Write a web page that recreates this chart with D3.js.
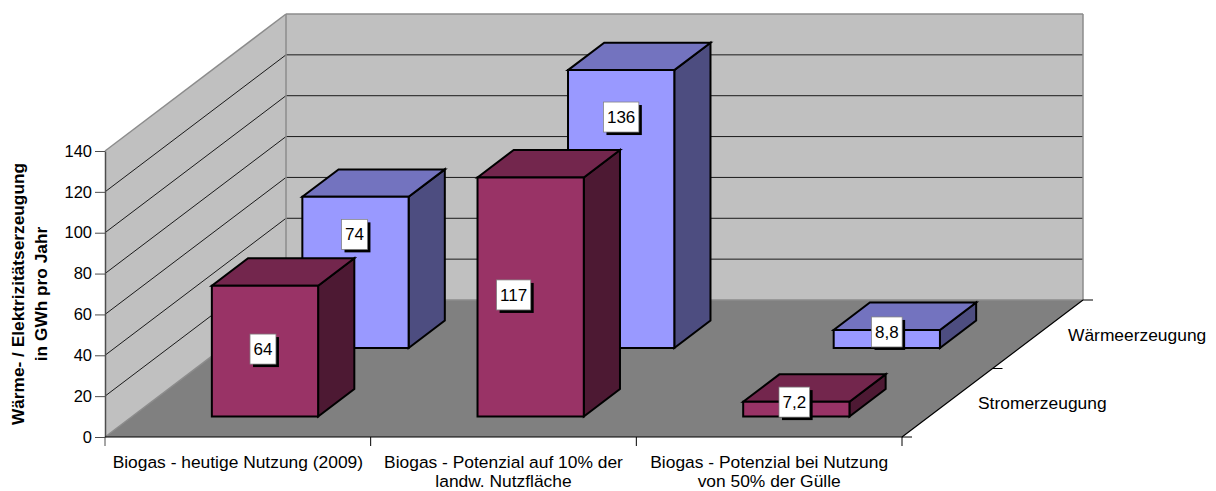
<!DOCTYPE html>
<html>
<head>
<meta charset="utf-8">
<script src="https://cdn.jsdelivr.net/npm/d3@7"></script>
<style>
  html, body { margin: 0; padding: 0; background: #fff; }
  svg { display: block; }
  text { font-family: "Liberation Sans", Arial, sans-serif; fill: #000; }
</style>
</head>
<body>
<div id="chart"></div>
<script>
var categories = [
  ["Biogas - heutige Nutzung (2009)"],
  ["Biogas - Potenzial auf 10% der", "landw. Nutzfläche"],
  ["Biogas - Potenzial bei Nutzung", "von 50% der Gülle"]
];
var seriesNames = ["Stromerzeugung", "Wärmeerzeugung"];
var strom = [64, 117, 7.2];
var waerme = [74, 136, 8.8];
var yTicks = [0, 20, 40, 60, 80, 100, 120, 140];

var width = 1216,
    height = 491;

// front edge of the floor and how far the box runs back
var left = 105, right = 902, bottom = 437, top_ = 151;
var depthX = 181, depthY = 137;

var x = d3.scaleBand().domain(d3.range(categories.length)).range([left, right]).paddingInner(0.6).paddingOuter(0.3);
var xOuter = d3.scaleBand().domain(d3.range(categories.length)).range([left, right]);
var y = d3.scaleLinear().domain([0, 140]).range([bottom, top_]);
var z = d3.scaleBand().domain(seriesNames).range([0, 1]).paddingInner(0.6).paddingOuter(0.3);

function pt(px, v, d) {
  return [px + d * depthX, y(v) - d * depthY];
}
function poly(points) {
  return "M" + points.map(function(p) { return p.join(","); }).join("L") + "Z";
}
function seg(a, b) {
  return "M" + a.join(",") + "L" + b.join(",");
}

var svg = d3.select("#chart").append("svg").attr("width", width).attr("height", height);

// walls and floor
svg.append("path").attr("fill", "#c0c0c0")
  .attr("d", poly([pt(left, 0, 0), pt(left, 140, 0), pt(left, 140, 1), pt(right, 140, 1), pt(right, 0, 1), pt(left, 0, 1)]));
svg.append("path").attr("fill", "#808080")
  .attr("d", poly([pt(left, 0, 0), pt(left, 0, 1), pt(right, 0, 1), pt(right, 0, 0)]));

// gridlines
yTicks.filter(function(t) { return t > 0 && t < 140; }).forEach(function(t) {
  svg.append("path").attr("fill", "none").attr("stroke", "#1a1a1a").attr("stroke-width", 1)
    .attr("d", "M" + [pt(left, t, 0), pt(left, t, 1), pt(right, t, 1)].map(String).join("L"));
});

// wall edges
var edges = [
  [pt(left, 140, 0), pt(left, 140, 1)],
  [pt(left, 140, 1), pt(right, 140, 1)],
  [pt(right, 140, 1), pt(right, 0, 1)],
  [pt(left, 140, 1), pt(left, 0, 1)],
  [pt(left, 0, 1), pt(right, 0, 1)],
  [pt(left, 0, 0), pt(left, 0, 1)]
];
svg.append("g").selectAll("path").data(edges).enter().append("path")
  .attr("fill", "none").attr("stroke", "#8c8c8c").attr("stroke-width", 1.5)
  .attr("d", function(d) { return seg(d[0], d[1]); });

// y axis
var yAxis = svg.append("g").attr("transform", "translate(" + left + ",0)")
  .call(d3.axisLeft(y).tickValues(yTicks).tickSize(10).tickPadding(3).tickSizeOuter(0));
yAxis.select(".domain").attr("stroke", "#4d4d4d").attr("stroke-width", 1.5);
yAxis.selectAll("line").attr("stroke", "#4d4d4d");
yAxis.selectAll("text").style("font-size", "16.5px")
  .style("font-family", "\"Liberation Sans\", Arial, sans-serif");

// bottom axis, ticks and depth axis
svg.append("path").attr("fill", "none").attr("stroke", "#000").attr("stroke-width", 1.2)
  .attr("d", seg(pt(left, 0, 0), pt(right, 0, 0)) + seg(pt(right, 0, 0), pt(right, 0, 1)));
var xTicks = d3.range(categories.length + 1).map(function(i) {
  return i < categories.length ? xOuter(i) : right;
});
svg.append("g").selectAll("line").data(xTicks).enter().append("line")
  .attr("x1", function(d) { return d; }).attr("x2", function(d) { return d; })
  .attr("y1", bottom).attr("y2", bottom + 9)
  .attr("stroke", function(d, i) { return i == 0 ? "#4d4d4d" : "#000"; });
svg.append("g").selectAll("line").data([0, 0.5, 1]).enter().append("line")
  .attr("x1", function(d) { return pt(right, 0, d)[0]; })
  .attr("x2", function(d) { return pt(right, 0, d)[0] + 10; })
  .attr("y1", function(d) { return pt(right, 0, d)[1]; })
  .attr("y2", function(d) { return pt(right, 0, d)[1]; })
  .attr("stroke", "#000");

// category labels
var catText = svg.append("g").selectAll("text").data(categories).enter().append("text")
  .attr("text-anchor", "middle").style("font-size", "17.4px");
catText.selectAll("tspan").data(function(d, i) {
    return d.map(function(s) { return { s: s, i: i }; });
  }).enter().append("tspan")
  .attr("x", function(d) { return xOuter(d.i) + xOuter.bandwidth() / 2; })
  .attr("y", function(d, j) { return bottom + 30.5 + j * 19.5; })
  .text(function(d) { return d.s; });

// series labels on the depth axis
var depthLabelX = [978, 1068], depthLabelY = [409, 341];
svg.append("g").selectAll("text").data(seriesNames).enter().append("text")
  .attr("x", function(d, i) { return depthLabelX[i]; })
  .attr("y", function(d, i) { return depthLabelY[i]; })
  .style("font-size", "17.4px")
  .text(function(d) { return d; });

// y title
var yTitle = svg.append("text").attr("transform", "translate(0,294) rotate(-90)")
  .attr("text-anchor", "middle").style("font-size", "17.3px").style("font-weight", "bold");
yTitle.append("tspan").attr("x", 0).attr("y", 24).text("Wärme- / Elektrizitätserzeugung");
yTitle.append("tspan").attr("x", 0).attr("y", 47).text("in GWh pro Jahr");

// bars, back row first
var rows = [
  { name: seriesNames[1], values: waerme, front: "#9999ff", top: "#7373bf", side: "#4d4d80" },
  { name: seriesNames[0], values: strom, front: "#993366", top: "#73264d", side: "#4d1933" }
];
var barWidth = x.bandwidth(), barDepth = z.bandwidth();

rows.forEach(function(r) {
  var d0 = z(r.name), d1 = d0 + barDepth;
  var g = svg.append("g").selectAll("g").data(r.values).enter().append("g")
    .attr("stroke", "#000").attr("stroke-width", 2).attr("stroke-linejoin", "miter");
  g.append("path").attr("fill", r.side).attr("d", function(v, i) {
    var xr = x(i) + barWidth;
    return poly([pt(xr, 0, d0), pt(xr, v, d0), pt(xr, v, d1), pt(xr, 0, d1)]);
  });
  g.append("path").attr("fill", r.top).attr("d", function(v, i) {
    var xl = x(i), xr = xl + barWidth;
    return poly([pt(xl, v, d0), pt(xr, v, d0), pt(xr, v, d1), pt(xl, v, d1)]);
  });
  g.append("path").attr("fill", r.front).attr("d", function(v, i) {
    var xl = x(i), xr = xl + barWidth;
    return poly([pt(xl, 0, d0), pt(xl, v, d0), pt(xr, v, d0), pt(xr, 0, d0)]);
  });
});

// data labels: white box with a hard shadow, moved by hand in the original chart
var labelShift = {
  Stromerzeugung: [[-2, -2], [-17, -2], [-2, -7]],
  "Wärmeerzeugung": [[-1, -38], [0, -92], [0, -7]]
};
rows.slice().reverse().forEach(function(r) {
  r.values.forEach(function(v, i) {
    var d0 = z(r.name);
    var c = pt(x(i) + barWidth / 2, v / 2, d0);
    var s = labelShift[r.name][i];
    var cx = c[0] + s[0], cy = c[1] + s[1];
    var label = String(v).replace(".", ",");
    var g = svg.append("g");
    var shadow = g.append("rect"), box = g.append("rect");
    var t = g.append("text").attr("x", cx).attr("y", cy + 6)
      .attr("text-anchor", "middle").style("font-size", "17px").text(label);
    var w = t.node().getComputedTextLength() + 7, h = 30;
    shadow.attr("x", cx - w / 2 + 3).attr("y", cy - h / 2 + 3).attr("width", w).attr("height", h).attr("fill", "#000");
    box.attr("x", cx - w / 2).attr("y", cy - h / 2).attr("width", w).attr("height", h)
      .attr("fill", "#fff").attr("stroke", "#808080").attr("stroke-width", 0.75);
  });
});
</script>
</body>
</html>
